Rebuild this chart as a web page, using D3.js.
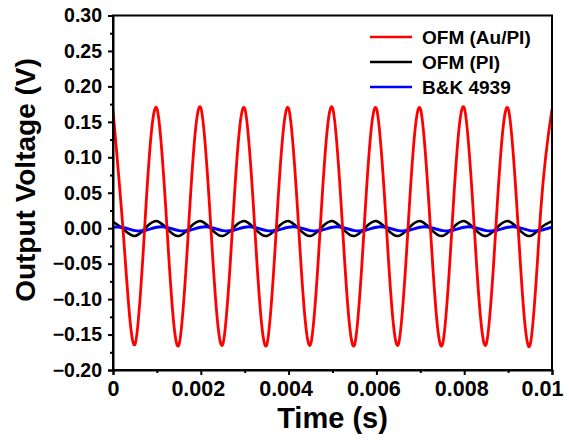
<!DOCTYPE html>
<html lang="en">
<head>
    <meta charset="UTF-8">
    <title>Output Voltage vs Time</title>
    <script src="https://d3js.org/d3.v7.min.js"></script>
    <style>
        body {
            margin: 0;
            background-color: #ffffff;
        }
        svg {
            display: block;
            font-family: "Liberation Sans", Arial, sans-serif;
            font-weight: bold;
        }
    </style>
</head>
<body>
    <svg id="main-svg" width="569" height="440"></svg>

    <script>
        // time samples (s), quarter period steps
        const time = [
            0, 0.00025, 0.0005, 0.00075, 0.001, 0.00125, 0.0015, 0.00175,
            0.002, 0.00225, 0.0025, 0.00275, 0.003, 0.00325, 0.0035, 0.00375,
            0.004, 0.00425, 0.0045, 0.00475, 0.005, 0.00525, 0.0055, 0.00575,
            0.006, 0.00625, 0.0065, 0.00675, 0.007, 0.00725, 0.0075, 0.00775,
            0.008, 0.00825, 0.0085, 0.00875, 0.009, 0.00925, 0.0095, 0.00975,
            0.01
        ];

        // OFM (Au/PI)
        const ofmAuPI = [
            0.166, -0.02, -0.164, 0.03, 0.169, -0.02, -0.165, 0.03,
            0.170, -0.02, -0.164, 0.03, 0.169, -0.02, -0.165, 0.03,
            0.169, -0.02, -0.164, 0.03, 0.170, -0.02, -0.165, 0.03,
            0.169, -0.02, -0.164, 0.03, 0.169, -0.02, -0.165, 0.03,
            0.170, -0.02, -0.164, 0.03, 0.169, -0.02, -0.165, 0.03,
            0.168
        ];

        // OFM (PI)
        const ofmPI = [
            0.009, -0.002, -0.011, 0.001, 0.010, -0.002, -0.011, 0.001,
            0.010, -0.002, -0.011, 0.001, 0.010, -0.002, -0.011, 0.001,
            0.010, -0.002, -0.011, 0.001, 0.010, -0.002, -0.011, 0.001,
            0.010, -0.002, -0.011, 0.001, 0.010, -0.002, -0.011, 0.001,
            0.010, -0.002, -0.011, 0.001, 0.010, -0.002, -0.011, 0.001,
            0.010
        ];

        // B&K 4939 reference mic
        const bk4939 = [
            0.0014, 0.0008, -0.0034, -0.0028, 0.0014, 0.0008, -0.0034, -0.0028,
            0.0014, 0.0008, -0.0034, -0.0028, 0.0014, 0.0008, -0.0034, -0.0028,
            0.0014, 0.0008, -0.0034, -0.0028, 0.0014, 0.0008, -0.0034, -0.0028,
            0.0014, 0.0008, -0.0034, -0.0028, 0.0014, 0.0008, -0.0034, -0.0028,
            0.0014, 0.0008, -0.0034, -0.0028, 0.0014, 0.0008, -0.0034, -0.0028,
            0.0014
        ];

        const seriesNames = ["OFM (Au/PI)", "OFM (PI)", "B&K 4939"];
        const seriesColors = ["#ff0000", "#000000", "#0000ff"];

        const xTicks = [0, 0.002, 0.004, 0.006, 0.008, 0.01];
        const xMinorTicks = [0.001, 0.003, 0.005, 0.007, 0.009];
        const yTicks = [0.30, 0.25, 0.20, 0.15, 0.10, 0.05, 0.00, -0.05, -0.10, -0.15, -0.20];

        const svg = d3.select("#main-svg");

        const plotLeft = 113, plotRight = 552, plotTop = 15.5, plotBottom = 370;

        const x = d3.scaleLinear().domain([0, 0.01]).range([plotLeft, plotRight]);
        const y = d3.scaleLinear().domain([-0.20, 0.30]).range([plotBottom, plotTop]);

        svg.append("clipPath").attr("id", "plot-clip")
            .append("rect")
            .attr("x", plotLeft).attr("y", plotTop)
            .attr("width", plotRight - plotLeft).attr("height", plotBottom - plotTop);

        // lines (black and blue under red)
        const series = [
            { name: seriesNames[1], color: seriesColors[1], values: ofmPI, width: 2.6 },
            { name: seriesNames[2], color: seriesColors[2], values: bk4939, width: 3 },
            { name: seriesNames[0], color: seriesColors[0], values: ofmAuPI, width: 2.8 }
        ];

        const line = d3.line()
            .x(d => x(d[0]))
            .y(d => y(d[1]))
            .curve(d3.curveNatural);

        svg.append("g").attr("clip-path", "url(#plot-clip)")
            .selectAll("path")
            .data(series)
            .enter()
            .append("path")
            .attr("d", s => line(time.map((t, i) => [t, s.values[i]])))
            .attr("fill", "none")
            .attr("stroke", s => s.color)
            .attr("stroke-width", s => s.width)
            .attr("stroke-linejoin", "round");

        // frame
        svg.append("rect")
            .attr("x", plotLeft).attr("y", plotTop)
            .attr("width", plotRight - plotLeft).attr("height", plotBottom - plotTop)
            .attr("fill", "none")
            .attr("stroke", "#000")
            .attr("stroke-width", 2);

        // y axis
        const yAxis = d3.axisLeft(y)
            .tickValues(yTicks)
            .tickSize(5)
            .tickPadding(6)
            .tickFormat(d3.format(".2f"));
        const gy = svg.append("g")
            .attr("transform", `translate(${plotLeft},0)`)
            .call(yAxis);
        gy.select(".domain").attr("stroke-width", 2);
        gy.selectAll(".tick line").attr("stroke-width", 2);
        gy.selectAll(".tick text")
            .attr("font-size", 19.5)
            .attr("font-family", "Liberation Sans, Arial, sans-serif")
            .attr("font-weight", "bold")
            .attr("fill", "#000");

        const yMinor = d3.axisLeft(y)
            .tickValues(yTicks.slice(0, -1).map(v => v - 0.025))
            .tickSize(3)
            .tickFormat("");
        const gym = svg.append("g")
            .attr("transform", `translate(${plotLeft},0)`)
            .call(yMinor);
        gym.select(".domain").remove();
        gym.selectAll(".tick line").attr("stroke-width", 2);

        // x axis
        const xAxis = d3.axisBottom(x)
            .tickValues(xTicks)
            .tickSize(5)
            .tickPadding(6)
            .tickFormat(d => d === 0 ? "0" : String(+d.toFixed(3)));
        const gx = svg.append("g")
            .attr("transform", `translate(0,${plotBottom})`)
            .call(xAxis);
        gx.select(".domain").attr("stroke-width", 2);
        gx.selectAll(".tick line").attr("stroke-width", 2);
        gx.selectAll(".tick text")
            .attr("font-size", 21.5)
            .attr("font-family", "Liberation Sans, Arial, sans-serif")
            .attr("font-weight", "bold")
            .attr("fill", "#000")
            .attr("dx", d => d === 0.01 ? -10 : (d === 0 ? 0 : -3));

        const xMinor = d3.axisBottom(x)
            .tickValues(xMinorTicks)
            .tickSize(3)
            .tickFormat("");
        const gxm = svg.append("g")
            .attr("transform", `translate(0,${plotBottom})`)
            .call(xMinor);
        gxm.select(".domain").remove();
        gxm.selectAll(".tick line").attr("stroke-width", 2);

        // axis titles
        svg.append("text")
            .attr("x", (plotLeft + plotRight) / 2)
            .attr("y", 428)
            .attr("text-anchor", "middle")
            .attr("font-size", 29)
            .text("Time (s)");

        svg.append("text")
            .attr("transform", "translate(35,180) rotate(-90)")
            .attr("text-anchor", "middle")
            .attr("font-size", 28)
            .text("Output Voltage (V)");

        // legend
        const legendRows = [
            { name: seriesNames[0], color: seriesColors[0] },
            { name: seriesNames[1], color: seriesColors[1] },
            { name: seriesNames[2], color: seriesColors[2] }
        ];
        const legend = svg.append("g")
            .selectAll("g")
            .data(legendRows)
            .enter()
            .append("g")
            .attr("transform", (d, i) => `translate(370,${37 + i * 25})`);
        legend.append("line")
            .attr("x1", 0).attr("x2", 42)
            .attr("stroke", d => d.color)
            .attr("stroke-width", 2.5);
        legend.append("text")
            .attr("x", 52)
            .attr("dy", "0.35em")
            .attr("font-size", 19)
            .text(d => d.name);
    </script>
</body>
</html>
